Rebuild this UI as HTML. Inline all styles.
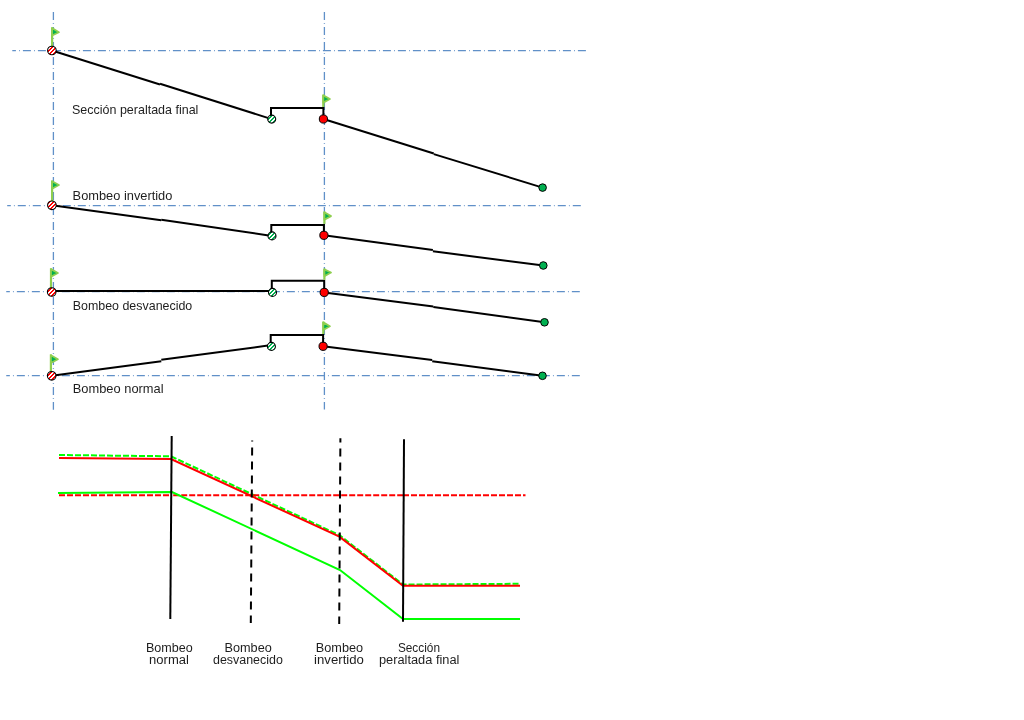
<!DOCTYPE html>
<html><head><meta charset="utf-8"><title>Diagram</title>
<style>
html,body{margin:0;padding:0;background:#fff;width:1024px;height:720px;overflow:hidden}
svg{display:block;will-change:transform}
text{font-family:"Liberation Sans",sans-serif;fill:#1e1e1e}
.g{stroke:#6090C8;stroke-width:1.3;stroke-dasharray:8 3.1 0.8 3.1;fill:none}
.k{stroke:#000;stroke-width:2;fill:none}
</style></head>
<body>
<svg width="1024" height="720" viewBox="0 0 1024 720">
<defs>
<pattern id="hr" width="4" height="4" patternUnits="userSpaceOnUse" shape-rendering="crispEdges">
<rect width="4" height="4" fill="#fff"/><path d="M2 0h2v1h-2zM1 1h2v1h-2zM0 2h2v1h-2zM3 3h1v1h-1zM0 3h1v1h-1z" fill="#FF0000"/></pattern>
<pattern id="hg" width="4" height="4" patternUnits="userSpaceOnUse" shape-rendering="crispEdges">
<rect width="4" height="4" fill="#fff"/><path d="M2 0h2v1h-2zM1 1h2v1h-2zM0 2h2v1h-2zM3 3h1v1h-1zM0 3h1v1h-1z" fill="#00B050"/></pattern>
</defs>
<rect width="1024" height="720" fill="#fff"/>
<line x1="12.3" y1="50.6" x2="586" y2="50.6" class="g" stroke-dashoffset="4.4"/>
<line x1="7.2" y1="205.7" x2="580.8" y2="205.7" class="g" stroke-dashoffset="4.4"/>
<line x1="6.25" y1="291.7" x2="579.8" y2="291.7" class="g" stroke-dashoffset="4.4"/>
<line x1="6.25" y1="375.7" x2="579.8" y2="375.7" class="g" stroke-dashoffset="4.4"/>
<line x1="53.4" y1="11.9" x2="53.4" y2="409.7" class="g"/>
<line x1="324.4" y1="11.9" x2="324.4" y2="409.6" class="g"/>
<line x1="51.9" y1="50.5" x2="160" y2="84.5" class="k"/><line x1="160" y1="83.7" x2="271.7" y2="119.1" class="k"/>
<line x1="323.4" y1="119.0" x2="433.8" y2="153.5" class="k"/><line x1="433.8" y1="154.1" x2="542.6" y2="187.6" class="k"/>
<path d="M271.0 119.1 V108.0 H323.4 V119.0" class="k" fill="none" stroke-linejoin="miter"/>
<line x1="52.1" y1="47.5" x2="52.1" y2="27.3" stroke="#8FCF4F" stroke-width="2.2"/><path d="M52.1 28.1 L58.9 32.2 L52.1 35.5 Z" fill="#00B050" stroke="#8FCF4F" stroke-width="1.8" stroke-linejoin="round"/>
<line x1="323.3" y1="107.0" x2="323.3" y2="94.6" stroke="#8FCF4F" stroke-width="2.2"/><path d="M323.3 95.39999999999999 L329.9 99.0 L323.3 102.60000000000001 Z" fill="#00B050" stroke="#8FCF4F" stroke-width="1.8" stroke-linejoin="round"/>
<circle cx="51.9" cy="50.5" r="4.3" fill="url(#hr)" stroke="#000" stroke-width="1.1"/>
<circle cx="271.7" cy="119.1" r="4.0" fill="url(#hg)" stroke="#000" stroke-width="1.1"/>
<circle cx="323.4" cy="119.0" r="4.1" fill="#FF0000" stroke="#000" stroke-width="1"/>
<circle cx="542.6" cy="187.6" r="3.8" fill="#00B050" stroke="#000" stroke-width="1"/>
<line x1="51.9" y1="205.3" x2="161.3" y2="220.35" class="k"/><line x1="161.3" y1="219.8" x2="272.0" y2="235.9" class="k"/>
<line x1="323.9" y1="235.3" x2="432.9" y2="250.0" class="k"/><line x1="432.9" y1="251.3" x2="543.3" y2="265.5" class="k"/>
<path d="M271.3 235.9 V224.9 H323.9 V235.3" class="k" fill="none" stroke-linejoin="miter"/>
<line x1="52.1" y1="202.3" x2="52.1" y2="180.5" stroke="#8FCF4F" stroke-width="2.2"/><path d="M52.1 181.3 L58.9 185.0 L52.1 188.7 Z" fill="#00B050" stroke="#8FCF4F" stroke-width="1.8" stroke-linejoin="round"/>
<line x1="324.4" y1="223.9" x2="324.4" y2="211.5" stroke="#8FCF4F" stroke-width="2.2"/><path d="M324.4 212.3 L331.0 216.1 L324.4 219.79999999999998 Z" fill="#00B050" stroke="#8FCF4F" stroke-width="1.8" stroke-linejoin="round"/>
<circle cx="51.9" cy="205.3" r="4.3" fill="url(#hr)" stroke="#000" stroke-width="1.1"/>
<circle cx="272.0" cy="235.9" r="4.0" fill="url(#hg)" stroke="#000" stroke-width="1.1"/>
<circle cx="323.9" cy="235.3" r="4.1" fill="#FF0000" stroke="#000" stroke-width="1"/>
<circle cx="543.3" cy="265.5" r="3.8" fill="#00B050" stroke="#000" stroke-width="1"/>
<line x1="51.7" y1="291.0" x2="272.5" y2="291.0" class="k"/>
<line x1="324.2" y1="292.4" x2="433.3" y2="306.5" class="k"/><line x1="433.3" y1="307.0" x2="544.5" y2="322.3" class="k"/>
<path d="M271.8 292.4 V280.8 H324.2 V292.4" class="k" fill="none" stroke-linejoin="miter"/>
<line x1="51.0" y1="289.0" x2="51.0" y2="268.3" stroke="#8FCF4F" stroke-width="2.2"/><path d="M51.0 269.1 L57.9 273.0 L51.0 276.7 Z" fill="#00B050" stroke="#8FCF4F" stroke-width="1.8" stroke-linejoin="round"/>
<line x1="324.4" y1="279.8" x2="324.4" y2="268.6" stroke="#8FCF4F" stroke-width="2.2"/><path d="M324.4 269.40000000000003 L331.0 272.5 L324.4 276.2 Z" fill="#00B050" stroke="#8FCF4F" stroke-width="1.8" stroke-linejoin="round"/>
<circle cx="51.7" cy="292.0" r="4.3" fill="url(#hr)" stroke="#000" stroke-width="1.1"/>
<circle cx="272.5" cy="292.4" r="4.0" fill="url(#hg)" stroke="#000" stroke-width="1.1"/>
<circle cx="324.2" cy="292.4" r="4.1" fill="#FF0000" stroke="#000" stroke-width="1"/>
<circle cx="544.5" cy="322.3" r="3.8" fill="#00B050" stroke="#000" stroke-width="1"/>
<line x1="51.7" y1="375.8" x2="161.3" y2="361.2" class="k"/><line x1="161.3" y1="359.8" x2="271.4" y2="345.1" class="k"/>
<line x1="323.1" y1="346.3" x2="432.2" y2="360.1" class="k"/><line x1="432.2" y1="361.3" x2="542.5" y2="375.8" class="k"/>
<path d="M270.7 346.4 V335.0 H323.1 V346.3" class="k" fill="none" stroke-linejoin="miter"/>
<line x1="50.9" y1="372.8" x2="50.9" y2="354.4" stroke="#8FCF4F" stroke-width="2.2"/><path d="M50.9 355.2 L57.9 359.2 L50.9 363.0 Z" fill="#00B050" stroke="#8FCF4F" stroke-width="1.8" stroke-linejoin="round"/>
<line x1="323.3" y1="334.0" x2="323.3" y2="321.6" stroke="#8FCF4F" stroke-width="2.2"/><path d="M323.3 322.40000000000003 L329.9 326.2 L323.3 330.0 Z" fill="#00B050" stroke="#8FCF4F" stroke-width="1.8" stroke-linejoin="round"/>
<circle cx="51.7" cy="375.8" r="4.3" fill="url(#hr)" stroke="#000" stroke-width="1.1"/>
<circle cx="271.4" cy="346.4" r="4.0" fill="url(#hg)" stroke="#000" stroke-width="1.1"/>
<circle cx="323.1" cy="346.3" r="4.1" fill="#FF0000" stroke="#000" stroke-width="1"/>
<circle cx="542.5" cy="375.8" r="3.8" fill="#00B050" stroke="#000" stroke-width="1"/>
<text x="72.0" y="113.8" textLength="126.4" lengthAdjust="spacingAndGlyphs" font-size="12.6">Sección peraltada final</text>
<text x="72.6" y="199.8" textLength="99.8" lengthAdjust="spacingAndGlyphs" font-size="12.6">Bombeo invertido</text>
<text x="72.7" y="309.8" textLength="119.6" lengthAdjust="spacingAndGlyphs" font-size="12.6">Bombeo desvanecido</text>
<text x="72.7" y="392.9" textLength="90.9" lengthAdjust="spacingAndGlyphs" font-size="12.6">Bombeo normal</text>
<polyline points="59,455 171,456.3 339.5,535.2 403,584.5 520,583.8" fill="none" stroke="#00FF00" stroke-width="2" stroke-dasharray="6 2"/>
<polyline points="59,458 171,459 339.4,536.7 403,585.8 520,585.8" fill="none" stroke="#FF0000" stroke-width="2"/>
<line x1="59" y1="495.2" x2="171" y2="495.2" stroke="#FF0000" stroke-width="2" stroke-dasharray="6 2"/>
<line x1="171" y1="495.2" x2="404" y2="495.2" stroke="#FF0000" stroke-width="2" stroke-dasharray="6 2" stroke-dashoffset="5.8"/>
<line x1="404" y1="495.2" x2="525.5" y2="495.2" stroke="#FF0000" stroke-width="2" stroke-dasharray="6 2" stroke-dashoffset="1"/>
<polyline points="58,493 172,492 340,570 403,619 520,619" fill="none" stroke="#00FF00" stroke-width="2"/>
<line x1="171.7" y1="436.1" x2="170.3" y2="618.9" class="k"/>
<line x1="404" y1="439.2" x2="403" y2="621.8" class="k"/>
<line x1="252.2" y1="440.6" x2="250.8" y2="623" class="k" stroke-dasharray="8 6" stroke-dashoffset="7"/>
<line x1="340.4" y1="438.2" x2="339.2" y2="623.9" class="k" stroke-dasharray="8 6" stroke-dashoffset="3.7"/>
<text x="145.9" y="651.9" textLength="46.8" lengthAdjust="spacingAndGlyphs" font-size="12.0">Bombeo</text>
<text x="149.1" y="663.8" textLength="39.8" lengthAdjust="spacingAndGlyphs" font-size="12.0">normal</text>
<text x="224.5" y="651.9" textLength="47.3" lengthAdjust="spacingAndGlyphs" font-size="12.0">Bombeo</text>
<text x="213.0" y="663.8" textLength="69.8" lengthAdjust="spacingAndGlyphs" font-size="12.0">desvanecido</text>
<text x="315.80000000000007" y="651.9" textLength="47.3" lengthAdjust="spacingAndGlyphs" font-size="12.0">Bombeo</text>
<text x="314.1" y="663.8" textLength="49.8" lengthAdjust="spacingAndGlyphs" font-size="12.0">invertido</text>
<text x="397.9" y="651.9" textLength="42.1" lengthAdjust="spacingAndGlyphs" font-size="12.0">Sección</text>
<text x="378.9" y="663.8" textLength="80.5" lengthAdjust="spacingAndGlyphs" font-size="12.0">peraltada final</text>
</svg>
</body></html>
